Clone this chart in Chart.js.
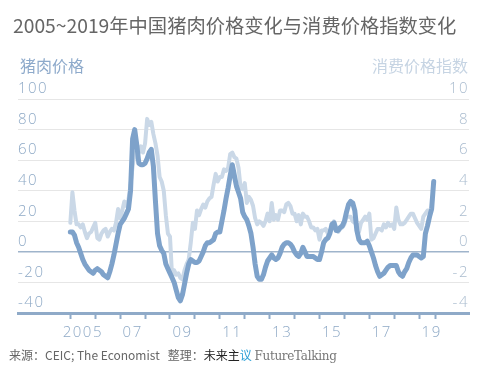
<!DOCTYPE html>
<html>
<head>
<meta charset="utf-8">
<script src="https://cdn.jsdelivr.net/npm/chart.js@4"></script>
<style>
  html, body { margin: 0; padding: 0; background: #fff; }
  body { width: 503px; height: 378px; position: relative; overflow: hidden; font-family: "Noto Sans CJK SC", "Open Sans", sans-serif; }
  #wrap { position: absolute; left: 0; top: 0; width: 503px; height: 378px; }
  .txt { position: absolute; white-space: nowrap; line-height: 1; }
  #title { left: 13px; top: 16px; font-size: 19.3px; color: #666; letter-spacing: 0px; }
  #lblLeft { left: 20px; top: 57px; font-size: 16px; color: #8eaacb; }
  #lblRight { right: 35px; top: 57px; font-size: 16px; color: #c6d4e3; }
  #source { left: 9px; top: 349px; font-size: 12px; color: #666; }
  #source .dark { color: #222; }
  #source .blue { color: #2a9fd6; }
  #source .serif { font-family: "DejaVu Serif", "Liberation Serif", serif; color: #777; font-size: 12px; letter-spacing: -0.3px; }
</style>
</head>
<body>
<div id="wrap"><canvas id="chart" width="503" height="378"></canvas></div>
<div class="txt" id="title">2005~2019年中国猪肉价格变化与消费价格指数变化</div>
<div class="txt" id="lblLeft">猪肉价格</div>
<div class="txt" id="lblRight">消费价格指数</div>
<div class="txt" id="source">来源：CEIC; The Economist&nbsp;&nbsp;&nbsp;整理：<span class="dark">未来主</span><span class="blue">议</span> <span class="serif">FutureTalking</span></div>
<script>
// monthly series, starting January 2005
const startYear = 2005;

// pork price, % change on a year earlier (left axis)
const porkPrice = [
  13, 13, 11, 6, 3, -1, -5, -8, -10, -12, -13, -14,       // 2005
  -12, -11, -12, -13, -15, -16, -17, -13, -8, -2, 5, 12,  // 2006
  18, 20, 22, 25, 28, 40, 74, 80, 70, 58, 57, 57,         // 2007
  58, 61, 65, 67, 56, 33, 12, 4, 1, -1, -8, -11,          // 2008
  -14, -17, -20, -25, -30, -32, -28, -21, -14, -8, -5, -6,// 2009
  -7, -7, -6, -3, 0, 4, 6, 6, 7, 8, 12, 13,               // 2010
  13, 20, 27, 35, 42, 50, 57, 50, 43, 39, 35, 26,         // 2011
  23, 21, 17, 12, 3, -8, -16, -18, -18, -15, -10, -6,     // 2012
  -4, -2, -4, -5, -4, -1, 3, 5, 6, 6, 5, 3,               // 2013
  0, -2, -3, -1, 3, 0, -3, -3, -3, -3, -4, -5,            // 2014
  -5, 0, 6, 8, 9, 12, 18, 19, 14, 14, 16, 17,             // 2015
  20, 26, 31, 33, 32, 27, 14, 8, 6, 6, 6, 7,              // 2016
  4, 0, -4, -9, -13, -16, -15, -14, -12, -10, -9, -9,     // 2017
  -9, -9, -13, -15, -16, -13, -11, -7, -4, -2, -2, -2,    // 2018
  -3, -4, -3, 12, 17, 23, 28, 46                          // 2019
];

// consumer price index, % change on a year earlier (right axis)
const cpi = [
  1.9, 3.9, 2.7, 1.8, 1.8, 1.6, 1.8, 1.3, 0.9, 1.2, 1.3, 1.6,
  1.9, 0.9, 0.8, 1.2, 1.4, 1.5, 1.0, 1.3, 1.5, 1.4, 1.9, 2.8,
  2.2, 2.7, 3.3, 3.0, 3.4, 4.4, 5.6, 6.5, 6.2, 6.5, 6.9, 6.5,
  7.1, 8.7, 8.3, 8.5, 7.7, 7.1, 6.3, 4.9, 4.6, 4.0, 2.4, 1.2,
  1.0, -1.6, -1.2, -1.5, -1.4, -1.7, -1.8, -1.2, -0.8, -0.5, 0.6, 1.9,
  1.5, 2.7, 2.4, 2.8, 3.1, 2.9, 3.3, 3.5, 3.6, 4.4, 5.1, 4.6,
  4.9, 4.9, 5.4, 5.3, 5.5, 6.4, 6.5, 6.2, 6.1, 5.5, 4.2, 4.1,
  4.5, 3.2, 3.6, 3.4, 3.0, 2.2, 1.8, 2.0, 1.9, 1.7, 2.0, 2.5,
  2.0, 3.2, 2.1, 2.4, 2.1, 2.7, 2.7, 2.6, 3.1, 3.2, 3.0, 2.5,
  2.5, 2.0, 2.4, 1.8, 2.5, 2.3, 2.3, 2.0, 1.6, 1.6, 1.4, 1.5,
  0.8, 1.4, 1.4, 1.5, 1.2, 1.4, 1.6, 2.0, 1.6, 1.3, 1.5, 1.6,
  1.8, 2.3, 2.3, 2.3, 2.0, 1.9, 1.8, 1.3, 1.9, 2.1, 2.3, 2.1,
  2.5, 0.8, 0.9, 1.2, 1.5, 1.5, 1.4, 1.8, 1.6, 1.9, 1.7, 1.8,
  1.5, 2.9, 2.1, 1.8, 1.8, 1.9, 2.1, 2.3, 2.5, 2.5, 2.2, 1.9,
  1.7, 1.5, 2.3, 2.5, 2.7, 2.7
];

// x axis: tick marks at each year start (plus the latest month), labels on odd years
const tickYears = [2005, 2006, 2007, 2008, 2009, 2010, 2011, 2012, 2013, 2014, 2015, 2016, 2017, 2018, 2019, 2019.67];
const tickLabels = ['2005', '', '07', '', '09', '', '11', '', '13', '', '15', '', '17', '', '19', ''];

const toPoints = arr => arr.map((v, i) => ({ x: startYear + i / 12, y: v }));

const tickFont = { family: "'Open Sans', 'DejaVu Sans', sans-serif", size: 15, weight: '300' };

const spacingPlugin = {
  id: 'spacing',
  beforeDraw(chart) {
    chart.ctx.letterSpacing = '1.5px';
  }
};

new Chart(document.getElementById('chart'), {
  type: 'line',
  data: {
    datasets: [
      {
        label: '猪肉价格',
        data: toPoints(porkPrice),
        yAxisID: 'y',
        borderColor: '#7ea2ca',
        borderWidth: 5,
        pointRadius: 0,
        tension: 0,
        borderJoinStyle: 'round',
        borderCapStyle: 'round'
      },
      {
        label: '消费价格指数',
        data: toPoints(cpi),
        yAxisID: 'y2',
        borderColor: '#cad8e7',
        borderWidth: 4,
        pointRadius: 0,
        tension: 0,
        borderJoinStyle: 'round',
        borderCapStyle: 'round'
      }
    ]
  },
  options: {
    responsive: false,
    animation: false,
    layout: { padding: { left: 18, right: 34, top: 99, bottom: 25 } },
    plugins: {
      legend: { display: false },
      tooltip: { enabled: false }
    },
    scales: {
      x: {
        type: 'linear',
        min: 2002.9,
        max: 2021.0,
        afterBuildTicks: (scale) => {
          scale.ticks = tickYears.map(v => ({ value: v }));
        },
        afterFit: (scale) => { scale.height = 40; },
        border: { display: true, color: '#8faac8', width: 3 },
        grid: {
          drawOnChartArea: false,
          drawTicks: true,
          tickLength: 6,
          tickWidth: 2,
          tickColor: '#8faac8'
        },
        ticks: {
          autoSkip: false,
          maxRotation: 0,
          padding: 5,
          labelOffset: 12.5,
          color: '#8ea9c6',
          font: tickFont,
          callback: (value, index) => tickLabels[index]
        }
      },
      y: {
        position: 'left',
        min: -40,
        max: 100,
        afterFit: (scale) => { scale.width = 0; },
        border: { display: false },
        grid: {
          drawTicks: false,
          color: (ctx) => ctx.tick.value === 0 ? '#9fb4cb' : (ctx.tick.value === -40 ? 'rgba(0,0,0,0)' : '#e6e6e6'),
          lineWidth: (ctx) => ctx.tick.value === 0 ? 1.5 : 1
        },
        ticks: {
          stepSize: 20,
          mirror: true,
          padding: 0,
          labelOffset: -10,
          color: '#8ea9c6',
          font: tickFont
        }
      },
      y2: {
        position: 'right',
        min: -4,
        max: 10,
        afterFit: (scale) => { scale.width = 0; },
        border: { display: false },
        grid: { display: false, drawTicks: false },
        ticks: {
          stepSize: 2,
          mirror: true,
          padding: 0,
          labelOffset: -10,
          color: '#aabccf',
          font: tickFont
        }
      }
    }
  },
  plugins: [spacingPlugin]
});
</script>
</body>
</html>
